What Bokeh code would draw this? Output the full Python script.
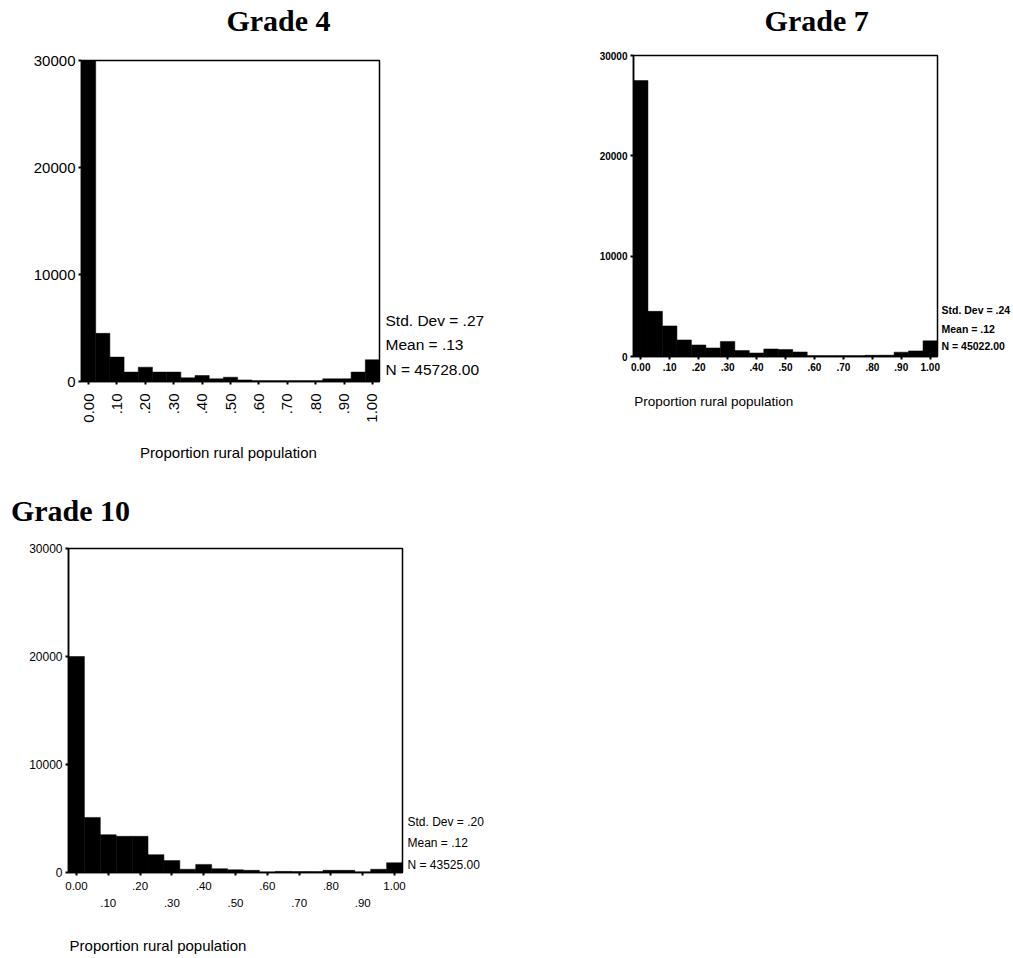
import math
from bokeh.plotting import figure
from bokeh.models import FixedTicker, LinearAxis, Range1d
from bokeh.layouts import column, row
from bokeh.embed import file_html
from bokeh.resources import INLINE

# ---------------- data ----------------
bin_centers = [0.00, 0.05, 0.10, 0.15, 0.20, 0.25, 0.30, 0.35, 0.40, 0.45, 0.50,
               0.55, 0.60, 0.65, 0.70, 0.75, 0.80, 0.85, 0.90, 0.95, 1.00]
bin_width = 0.05

grade4_counts = [30000, 4500, 2280, 880, 1340, 880, 880, 340, 560, 250, 400,
                 150, 60, 60, 60, 60, 60, 250, 250, 880, 2030]
grade7_counts = [27500, 4500, 3050, 1650, 1150, 850, 1500, 600, 350, 750, 700,
                 450, 80, 80, 80, 80, 120, 130, 430, 560, 1560]
grade10_counts = [20000, 5100, 3500, 3350, 3350, 1650, 1100, 300, 750, 350, 250,
                  200, 30, 100, 80, 80, 200, 200, 40, 300, 900]

y_ticks = [0, 10000, 20000, 30000]
x_ticks = [0.0, 0.1, 0.2, 0.3, 0.4, 0.5, 0.6, 0.7, 0.8, 0.9, 1.0]
x_tick_labels = ["0.00", ".10", ".20", ".30", ".40", ".50", ".60", ".70", ".80", ".90", "1.00"]

titles = ["Grade 4", "Grade 7", "Grade 10"]
x_title = "Proportion rural population"
stats4 = ["Std. Dev = .27", "Mean = .13", "N = 45728.00"]
stats7 = ["Std. Dev = .24", "Mean = .12", "N = 45022.00"]
stats10 = ["Std. Dev = .20", "Mean = .12", "N = 43525.00"]

SANS = "Liberation Sans"
SERIF = "Liberation Serif"

x_start = bin_centers[0] - bin_width / 2
x_end = bin_centers[-1] + bin_width / 2


def px_to_x(px, frame_w):
    return x_start + px / frame_w * (x_end - x_start)


def px_to_y(px, frame_h):
    return y_ticks[0] + px / frame_h * (y_ticks[-1] - y_ticks[0])


def text_axis(ticks, labels, font, size, style, standoff):
    return LinearAxis(ticker=FixedTicker(ticks=ticks),
                      major_label_overrides=dict(zip(ticks, labels)),
                      axis_line_color=None, major_tick_line_color=None,
                      minor_tick_line_color=None, major_tick_in=0, major_tick_out=0,
                      major_label_text_font=font, major_label_text_font_size=size,
                      major_label_text_font_style=style, major_label_text_color="black",
                      major_label_standoff=standoff)


def make_panel(counts, width, height, borders, tick_size, tick_style):
    left, right, top, bottom = borders
    p = figure(width=width, height=height,
               x_range=Range1d(x_start, x_end),
               y_range=Range1d(y_ticks[0], y_ticks[-1]),
               output_backend="svg", toolbar_location=None,
               min_border_left=left, min_border_right=right,
               min_border_top=top, min_border_bottom=bottom,
               background_fill_color="white", border_fill_color="white")
    p.vbar(x=bin_centers, top=counts, width=bin_width,
           fill_color="black", line_color="black", line_width=0.5)
    p.xgrid.visible = False
    p.ygrid.visible = False
    p.outline_line_color = "black"
    p.outline_line_width = 1.5
    for ax in (p.xaxis[0], p.yaxis[0]):
        ax.axis_line_color = "black"
        ax.axis_line_width = 1.5
        ax.major_tick_line_color = "black"
        ax.major_tick_line_width = 2
        ax.major_tick_in = 0
        ax.major_tick_out = 3
        ax.minor_tick_line_color = None
        ax.major_label_text_font = SANS
        ax.major_label_text_font_size = tick_size
        ax.major_label_text_font_style = tick_style
        ax.major_label_text_color = "black"
        ax.major_label_standoff = 3
    p.yaxis.ticker = FixedTicker(ticks=y_ticks)
    p.yaxis.major_label_overrides = {t: str(t) for t in y_ticks}
    return p


def add_title(p, text, center_px, frame_w, standoff):
    p.add_layout(text_axis([px_to_x(center_px, frame_w)], [text], SERIF, "30px", "bold", standoff), "above")


def add_stats(p, stats, offsets_px, frame_h, size, style, standoff):
    ys = [px_to_y(o, frame_h) for o in offsets_px]
    p.add_layout(text_axis(ys, stats, SANS, size, style, standoff), "right")


def add_xtitle(p, center_px, frame_w, size, standoff):
    p.add_layout(text_axis([px_to_x(center_px, frame_w)], [x_title], SANS, size, "normal", standoff), "below")


# ---------------- Grade 4 ----------------
W4, H4 = 298, 321
p4 = make_panel(grade4_counts, 540, 488, (81, 161, 60, 107), "15px", "normal")
p4.xaxis.ticker = FixedTicker(ticks=x_ticks)
p4.xaxis.major_label_overrides = dict(zip(x_ticks, x_tick_labels))
p4.xaxis.major_label_orientation = math.pi / 2
p4.xaxis.major_label_standoff = 9
add_title(p4, titles[0], 197, W4, 24)
add_stats(p4, stats4, [61, 37, 12], H4, "15.5px", "normal", 6)
add_xtitle(p4, 147, W4, "15px", 18)

# ---------------- Grade 7 ----------------
W7, H7 = 307, 301
p7 = make_panel(grade7_counts, 473, 488, (93, 73, 55, 132), "10px", "bold")
p7.xaxis.ticker = FixedTicker(ticks=x_ticks)
p7.xaxis.major_label_overrides = dict(zip(x_ticks, x_tick_labels))
add_title(p7, titles[1], 185, W7, 19)
add_stats(p7, stats7, [47, 28, 11], H7, "10.5px", "bold", 4)
add_xtitle(p7, 81, W7, "13.5px", 20)

# ---------------- Grade 10 ----------------
W10, H10 = 334, 325
even_ticks = x_ticks[::2]
odd_ticks = x_ticks[1::2]
p10 = make_panel(grade10_counts, 540, 468, (68, 138, 60, 83), "12px", "normal")
p10.xaxis.ticker = FixedTicker(ticks=even_ticks, minor_ticks=odd_ticks)
p10.xaxis.major_label_overrides = dict(zip(even_ticks, x_tick_labels[::2]))
p10.xaxis.major_label_text_font_size = "11.5px"
p10.xaxis.minor_tick_line_color = "black"
p10.xaxis.minor_tick_line_width = 2
p10.xaxis.minor_tick_in = 0
p10.xaxis.minor_tick_out = 3
p10.xaxis.major_label_standoff = 6
p10.add_layout(text_axis(odd_ticks, x_tick_labels[1::2], SANS, "11.5px", "normal", 6), "below")
add_title(p10, titles[2], 2, W10, 22)
add_stats(p10, stats10, [51, 30, 8], H10, "12px", "normal", 5)
add_xtitle(p10, 89.5, W10, "15px", 27)

# nest each top figure in its own column so that the row does not align their frames
layout = column(row(column(p4), column(p7)), p10)
open("out.html", "w").write(file_html(layout, INLINE))
